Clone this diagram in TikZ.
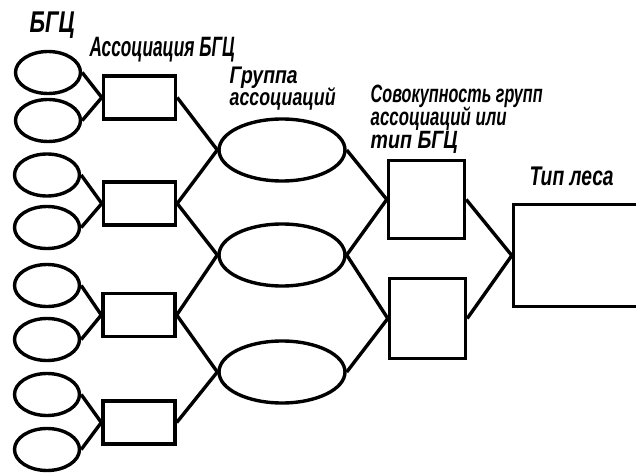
\documentclass[tikz,border=0pt]{standalone}
\usepackage{fontspec}
\usepackage{graphicx}
\newfontfamily\hand{Liberation Sans}
\usetikzlibrary{shapes.geometric}
\newcommand\fitw[2]{\resizebox{#1}{\height}{#2}}
\begin{document}
\begin{tikzpicture}[x=1pt,y=-1pt,line width=3.4pt,
  sell/.style={draw,ellipse,minimum width=65pt,minimum height=42pt,inner sep=0pt},
  lell/.style={draw,ellipse,minimum width=126pt,minimum height=62pt,inner sep=0pt},
  srect/.style={draw,rectangle,minimum width=72pt,minimum height=43pt,inner sep=0pt},
  mrect/.style={draw,rectangle,minimum width=76pt,inner sep=0pt},
  brect/.style={draw,rectangle,minimum width=200pt,minimum height=102pt,inner sep=0pt},
  lbl/.style={anchor=base west,inner sep=0pt,font=\hand\bfseries\itshape},
  mlbl/.style={anchor=north west,inner sep=0pt,align=left}]
\useasboundingbox (0,0) rectangle (636,473);
\clip (0,0) rectangle (636,473);
% level 1: small ellipses
\node[sell] (e1) at (48,72.5) {};
\node[sell] (e2) at (48,120.5) {};
\node[sell] (e3) at (47,175) {};
\node[sell] (e4) at (47,227.5) {};
\node[sell] (e5) at (47,285.5) {};
\node[sell] (e6) at (47,339.5) {};
\node[sell] (e7) at (47,394.5) {};
\node[sell] (e8) at (47,449.5) {};
% level 2: association rectangles
\node[srect] (r1) at (139.5,97.5) {};
\node[srect] (r2) at (139.5,203.5) {};
\node[srect] (r3) at (139,315) {};
\node[srect] (r4) at (139,422.5) {};
% level 3: group ellipses
\node[lell] (g1) at (282,150) {};
\node[lell] (g2) at (282,255) {};
\node[lell] (g3) at (282,372) {};
% level 4
\node[mrect,minimum height=78pt] (t1) at (426.5,199.5) {};
\node[mrect,minimum height=80pt] (t2) at (427.5,318.5) {};
% level 5
\node[brect] (f) at (613.5,255.5) {};
% connectors
\draw (e1.east) -- (r1.west);
\draw (e2.east) -- (r1.west);
\draw (e3.east) -- (r2.west);
\draw (e4.east) -- (r2.west);
\draw (e5.east) -- (r3.west);
\draw (e6.east) -- (r3.west);
\draw (e7.east) -- (r4.west);
\draw (e8.east) -- (r4.west);
\draw (r1.east) -- (g1.west);
\draw (r2.east) -- (g1.west);
\draw (r2.east) -- (g2.west);
\draw (r3.east) -- (g2.west);
\draw (r3.east) -- (g3.west);
\draw (r4.east) -- (g3.west);
\draw (g1.east) -- (t1.west);
\draw (g2.east) -- (t1.west);
\draw (g2.east) -- (t2.west);
\draw (g3.east) -- (t2.west);
\draw (t1.east) -- (f.west);
\draw (t2.east) -- (f.west);
% labels
\node[lbl,font=\hand\bfseries\itshape\fontsize{30}{30}\selectfont] (l1) at (28,33) {\fitw{45pt}{БГЦ}};
\node[lbl,font=\hand\bfseries\itshape\fontsize{28}{28}\selectfont] (l2) at (88,57) {\fitw{145pt}{Ассоциация БГЦ}};
\node[mlbl,font=\hand\bfseries\itshape\fontsize{24}{20}\selectfont] (l3) at (228,65) {\fitw{68pt}{Группа}\\[-1.5pt]\fitw{106pt}{ассоциаций}};
\node[mlbl,font=\hand\bfseries\itshape\fontsize{25}{19.5}\selectfont] (l4) at (369,83) {\fitw{172pt}{Совокупность групп}\\[-2pt]\fitw{136pt}{ассоциаций или}\\[0pt]\fitw{87pt}{тип БГЦ}};
\node[lbl,font=\hand\bfseries\itshape\fontsize{27}{27}\selectfont] (l5) at (528,185) {\fitw{84pt}{Тип леса}};
\end{tikzpicture}
\end{document}
